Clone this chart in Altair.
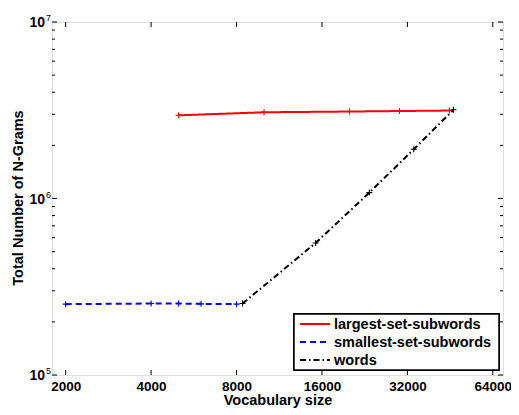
import altair as alt
import pandas as pd

# ---- data ----
series_names = ["largest-set-subwords", "smallest-set-subwords", "words"]
series_colors = ["#ff0000", "#0000ff", "#000000"]
series_dash = [[1, 0], [6, 4], [6, 3, 1.5, 3]]

largest_x = [5000, 10000, 20000, 30000, 45000]
largest_y = [2.96e6, 3.08e6, 3.11e6, 3.13e6, 3.15e6]

smallest_x = [2000, 4000, 5000, 6000, 8000]
smallest_y = [2.52e5, 2.54e5, 2.54e5, 2.53e5, 2.52e5]

words_x = [8400, 15200, 23500, 33700, 46500]
words_y = [2.54e5, 5.6e5, 1.08e6, 1.9e6, 3.18e6]

x_ticks = [2000, 4000, 8000, 16000, 32000, 64000]
y_major = [1e5, 1e6, 1e7]
y_exponents = ["5", "6", "7"]
y_minor = [k * 10 ** e for e in (5, 6) for k in range(2, 10)]

FONT = "Liberation Sans"
W, H = 451, 353
PAD_L = 44

rows = []
for name, xs, ys in zip(series_names,
                        [largest_x, smallest_x, words_x],
                        [largest_y, smallest_y, words_y]):
    for i, (xv, yv) in enumerate(zip(xs, ys)):
        rows.append({"series": name, "x": xv, "y": yv, "order": i})
df = pd.DataFrame(rows)

xscale = alt.Scale(type="log", base=2, domain=[1790, 69500], nice=False)
yscale = alt.Scale(type="log", domain=[1e5, 1e7], nice=False)

xaxis = alt.Axis(values=x_ticks, format="d", labelFont=FONT, labelFontSize=13.5,
                 labelFontWeight="bold", labelColor="black", ticks=False,
                 domain=False, grid=False, labelPadding=4, labelFlush=False,
                 title="Vocabulary size", titleFont=FONT, titleFontSize=14.5,
                 titleFontWeight="bold", titleColor="black", titlePadding=1)
yaxis = alt.Axis(labels=False, ticks=False, domain=False, grid=False,
                 title="Total Number of N-Grams", titleFont=FONT,
                 titleFontSize=14.5, titleFontWeight="bold", titleColor="black",
                 titleX=-(PAD_L - 10), titleY=H / 2 - 1, titleAlign="center",
                 titleBaseline="middle", titleAngle=-90)

X = alt.X("x:Q", scale=xscale, axis=xaxis)
Y = alt.Y("y:Q", scale=yscale, axis=yaxis)
C = alt.Color("series:N",
              scale=alt.Scale(domain=series_names, range=series_colors),
              legend=None)
D = alt.StrokeDash("series:N",
                   scale=alt.Scale(domain=series_names, range=series_dash),
                   legend=None)

lines = alt.Chart(df).mark_line(strokeWidth=2).encode(
    x=X, y=Y, color=C, strokeDash=D, order="order:Q")

plus = "M-1,0L1,0M0,-1L0,1"
points = alt.Chart(df).mark_point(shape=plus, size=36, filled=False,
                                  strokeWidth=1.1, opacity=1).encode(
    x=X, y=Y, color=C)

xt = pd.DataFrame({"x": x_ticks})
xtick_bottom = alt.Chart(xt).mark_rule(color="black", strokeWidth=1).encode(
    x=X, y=alt.value(H), y2=alt.value(H - 5))
xtick_top = alt.Chart(xt).mark_rule(color="black", strokeWidth=1).encode(
    x=X, y=alt.value(0), y2=alt.value(5))

ymaj = pd.DataFrame({"y": y_major, "e": y_exponents})
ymin = pd.DataFrame({"y": y_minor})
ytick_left = alt.Chart(ymaj).mark_rule(color="black", strokeWidth=1).encode(
    y=Y, x=alt.value(0), x2=alt.value(5))
ytick_right = alt.Chart(ymaj).mark_rule(color="black", strokeWidth=1).encode(
    y=Y, x=alt.value(W), x2=alt.value(W - 5))
ymin_left = alt.Chart(ymin).mark_rule(color="black", strokeWidth=1).encode(
    y=Y, x=alt.value(0), x2=alt.value(3))
ymin_right = alt.Chart(ymin).mark_rule(color="black", strokeWidth=1).encode(
    y=Y, x=alt.value(W), x2=alt.value(W - 3))

ylab_base = alt.Chart(ymaj).mark_text(align="right", baseline="middle",
                                      font=FONT, fontSize=14, fontWeight="bold",
                                      color="black", dy=1).encode(
    y=Y, x=alt.value(-7), text=alt.value("10"))
ylab_exp = alt.Chart(ymaj).mark_text(align="left", baseline="middle",
                                     font=FONT, fontSize=9, color="black",
                                     dy=-4).encode(
    y=Y, x=alt.value(-6), text="e:N")

# ---- legend (drawn as marks) ----
box_top = H - 61
box_bot = H - 5
box_r = W - 4
box_l = box_r - 205
leg_df = pd.DataFrame({"series": series_names})
legend_layers = [
    alt.Chart(leg_df).mark_rect(fill="white", stroke="black", strokeWidth=1.5)
    .encode(x=alt.value(box_l), x2=alt.value(box_r),
            y=alt.value(box_top), y2=alt.value(box_bot))
]
for i, (name, col, dsh) in enumerate(zip(series_names, series_colors, series_dash)):
    yy = box_top + 10 + 18 * i
    sub = leg_df[leg_df.series == name]
    legend_layers.append(
        alt.Chart(sub).mark_rule(color=col, strokeWidth=2, strokeDash=dsh)
        .encode(x=alt.value(box_l + 6), x2=alt.value(box_l + 36), y=alt.value(yy)))
    legend_layers.append(
        alt.Chart(sub).mark_text(align="left", baseline="middle", font=FONT,
                                 fontSize=14.5, fontWeight="bold", color="black")
        .encode(x=alt.value(box_l + 40), y=alt.value(yy + 1), text="series:N"))

chart = alt.layer(
    xtick_bottom, xtick_top, ytick_left, ytick_right, ymin_left, ymin_right,
    ylab_base, ylab_exp, lines, points, *legend_layers
).properties(
    width=W, height=H,
    autosize=alt.AutoSizeParams(type="none"),
    padding={"left": PAD_L, "top": 14, "right": 8, "bottom": 33},
).configure_view(stroke="black", strokeWidth=1.2).configure(background="white")

chart.save("out.html", embed_options={"renderer": "svg", "actions": False})
